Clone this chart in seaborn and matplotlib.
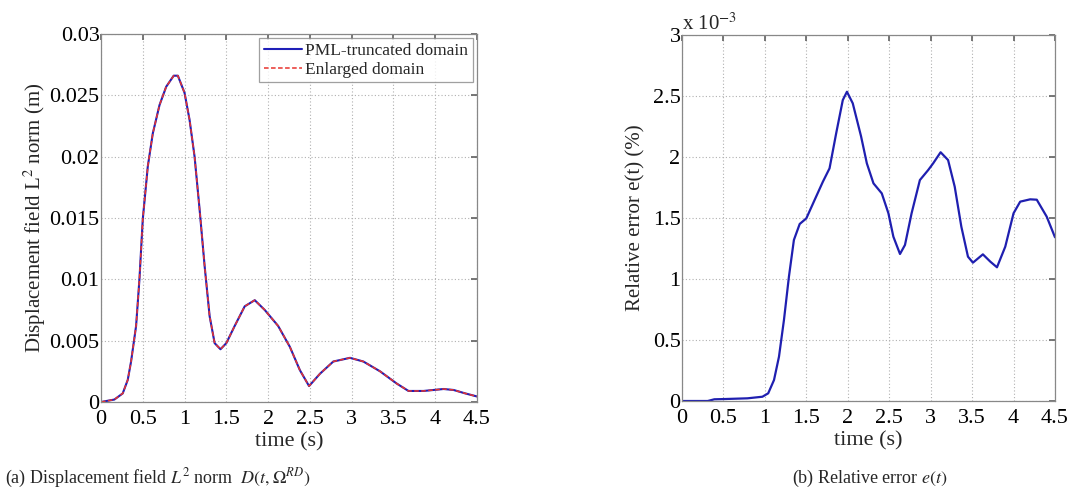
import numpy as np
import pandas as pd
import seaborn as sns
import matplotlib
matplotlib.use("Agg")
import matplotlib.pyplot as plt

# ---- data ----
t_disp = [0.0, 0.16, 0.26, 0.32, 0.36, 0.42, 0.46, 0.50, 0.56, 0.62, 0.70, 0.78, 0.87,
          0.92, 1.00, 1.06, 1.12, 1.18, 1.24, 1.30, 1.36, 1.43, 1.50, 1.60, 1.72, 1.84,
          1.96, 2.12, 2.26, 2.38, 2.49, 2.62, 2.78, 2.98, 3.14, 3.34, 3.54, 3.68, 3.86,
          4.10, 4.22, 4.36, 4.50]
d_pml = [0.0, 0.0002, 0.0007, 0.0018, 0.0033, 0.0062, 0.0100, 0.0149, 0.0192, 0.0219,
         0.0242, 0.0257, 0.0266, 0.0266, 0.0252, 0.0230, 0.0200, 0.0157, 0.0111, 0.0070,
         0.0048, 0.0043, 0.0048, 0.0062, 0.0078, 0.0083, 0.0075, 0.0062, 0.0045, 0.0026,
         0.0013, 0.0023, 0.0033, 0.0036, 0.0033, 0.0025, 0.0015, 0.0009, 0.0009, 0.00106,
         0.00098, 0.0007, 0.00045]
d_enl = [0.0, 0.0002, 0.0007, 0.0018, 0.0033, 0.0062, 0.0100, 0.0149, 0.0192, 0.0219,
         0.0242, 0.0257, 0.0266, 0.0266, 0.0252, 0.0230, 0.0200, 0.0157, 0.0111, 0.0070,
         0.0048, 0.0043, 0.0048, 0.0062, 0.0078, 0.0083, 0.0075, 0.0062, 0.0045, 0.0026,
         0.0013, 0.0023, 0.0033, 0.0036, 0.0033, 0.0025, 0.0015, 0.0009, 0.0009, 0.00106,
         0.00098, 0.0007, 0.00045]

t_err = [0.0, 0.31, 0.39, 0.51, 0.79, 0.97, 1.04, 1.11, 1.17, 1.23, 1.29, 1.35, 1.42,
         1.50, 1.60, 1.70, 1.78, 1.86, 1.94, 1.99, 2.06, 2.16, 2.23, 2.31, 2.41, 2.49,
         2.55, 2.63, 2.69, 2.77, 2.87, 2.97, 3.03, 3.12, 3.21, 3.29, 3.37, 3.45, 3.51,
         3.63, 3.72, 3.80, 3.90, 4.00, 4.08, 4.20, 4.28, 4.40, 4.50]
e_val = [0.0, 0.0, 0.014, 0.016, 0.022, 0.035, 0.063, 0.172, 0.363, 0.664, 1.019, 1.320,
         1.451, 1.497, 1.648, 1.798, 1.907, 2.194, 2.467, 2.535, 2.44, 2.17, 1.948, 1.784,
         1.702, 1.539, 1.347, 1.205, 1.279, 1.539, 1.811, 1.893, 1.948, 2.039, 1.975,
         1.757, 1.429, 1.183, 1.134, 1.202, 1.142, 1.096, 1.265, 1.539, 1.634, 1.653,
         1.65, 1.511, 1.342]

x_ticks = [0, 0.5, 1, 1.5, 2, 2.5, 3, 3.5, 4, 4.5]
x_tick_labels = ["0", "0.5", "1", "1.5", "2", "2.5", "3", "3.5", "4", "4.5"]
y1_ticks = [0, 0.005, 0.01, 0.015, 0.02, 0.025, 0.03]
y1_tick_labels = ["0", "0.005", "0.01", "0.015", "0.02", "0.025", "0.03"]
y2_ticks = [0, 0.5, 1, 1.5, 2, 2.5, 3]
y2_tick_labels = ["0", "0.5", "1", "1.5", "2", "2.5", "3"]

sns.set_theme(style="white")
plt.rcParams["font.family"] = ["Liberation Serif", "DejaVu Serif"]
plt.rcParams["mathtext.fontset"] = "stix"

fig = plt.figure(figsize=(10.74, 4.95), dpi=100)
W, H = 1074, 495
ax1 = fig.add_axes([101 / W, 1 - 402 / H, (477 - 101) / W, (402 - 34) / H])
ax2 = fig.add_axes([682 / W, 1 - 401 / H, (1055 - 682) / W, (401 - 35) / H])

df1 = pd.DataFrame({"t": t_disp, "pml": d_pml, "enl": d_enl})
df2 = pd.DataFrame({"t": t_err, "e": e_val})

sns.lineplot(data=df1, x="t", y="pml", ax=ax1, color="#1f1fb8", lw=1.5,
             label="PML-truncated domain")
sns.lineplot(data=df1, x="t", y="enl", ax=ax1, color="#e8332e", lw=1.1,
             linestyle=(0, (3, 1.6)), label="Enlarged domain")
sns.lineplot(data=df2, x="t", y="e", ax=ax2, color="#1f1fb0", lw=1.6)

def style(ax, yt, ytl, ylim):
    ax.set_xlim(0, 4.5)
    ax.set_ylim(*ylim)
    ax.set_xticks(x_ticks)
    ax.set_xticklabels(x_tick_labels)
    ax.set_yticks(yt)
    ax.set_yticklabels(ytl)
    ax.grid(True, color="#b0b0b0", linestyle=(0, (1, 2)), lw=0.8)
    for s in ax.spines.values():
        s.set_color("#888888")
        s.set_linewidth(0.9)
    ax.tick_params(direction="in", length=4, top=True, right=True,
                   labelsize=16, color="#666666", labelcolor="black")
    ax.tick_params(axis="x", pad=6)
    ax.tick_params(axis="y", pad=1)
    ax.set_xlabel("time (s)", fontsize=16, labelpad=2)

style(ax1, y1_ticks, y1_tick_labels, (0, 0.03))
style(ax2, y2_ticks, y2_tick_labels, (0, 3))

ax1.set_ylabel("Displacement field L$^2$ norm (m)", fontsize=15, labelpad=1)
ax2.set_ylabel("Relative error e(t) (%)", fontsize=15, labelpad=5)
ax2.text(0.0, 1.0, "x 10$^{-3}$", transform=ax2.transAxes, fontsize=15,
         ha="left", va="bottom")

leg = ax1.legend(loc="upper right", fontsize=12.5, frameon=True, fancybox=False,
                 edgecolor="#888888", borderpad=0.25, handlelength=2.2,
                 handletextpad=0.2, labelspacing=0.15, borderaxespad=0.25)
leg.get_frame().set_linewidth(0.9)

fig.text(5 / W, 1 - 478 / H, "(a) Displacement field $L^2$ norm  $D(t,\\Omega^{RD})$",
         fontsize=13, ha="left", va="center")
fig.text(870 / W, 1 - 478 / H, "(b) Relative error $e(t)$",
         fontsize=13, ha="center", va="center")

fig.savefig("out.png", dpi=100)
